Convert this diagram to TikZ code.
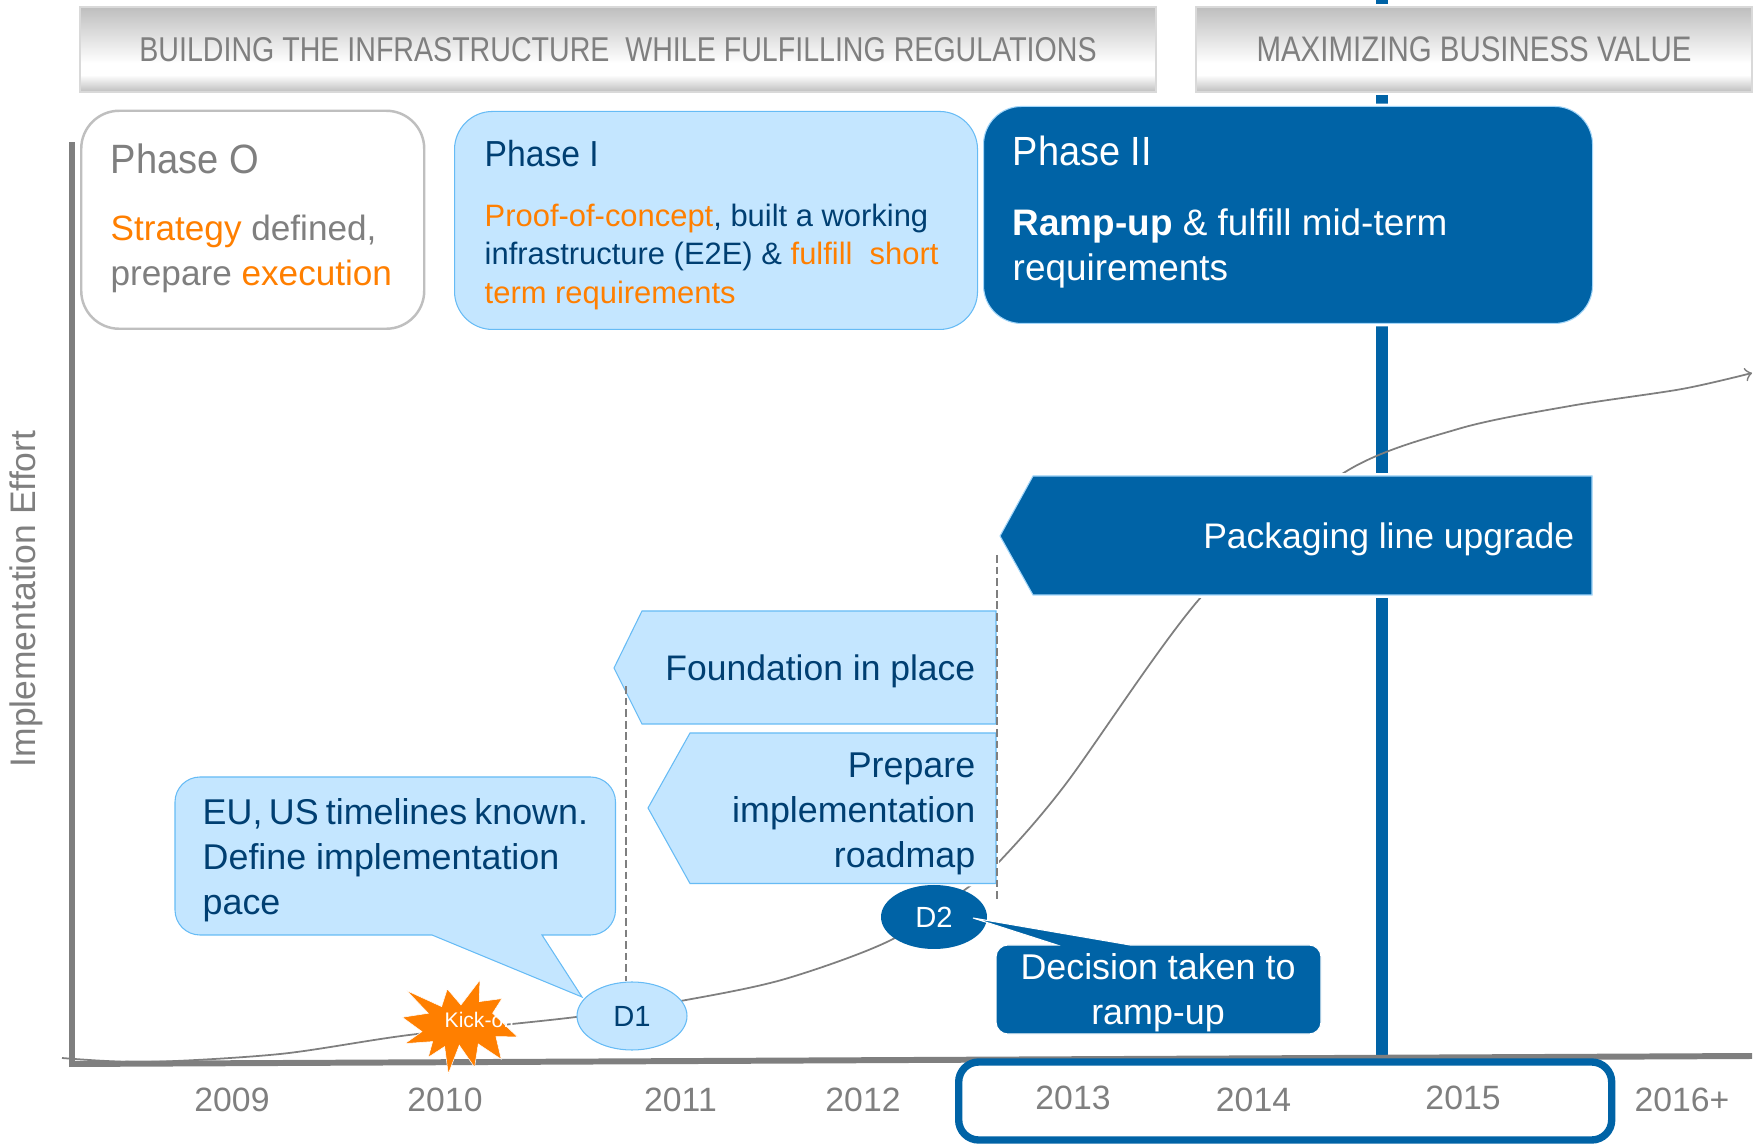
\documentclass[tikz,border=0pt]{standalone}
\usepackage{fontspec}
\setmainfont{Liberation Sans}
\newfontfamily\narrowfont[FakeStretch=0.83]{Liberation Sans}
\newfontfamily\slimfont[FakeStretch=0.93]{Liberation Sans}
\usetikzlibrary{shapes.geometric}
\definecolor{headgray}{HTML}{BEBEBE}
\definecolor{textgray}{HTML}{7F7F7F}
\definecolor{navy}{HTML}{003F72}
\definecolor{strongblue}{HTML}{0063A6}
\definecolor{paleblue}{HTML}{C4E6FF}
\definecolor{edgeblue}{HTML}{66BBF5}
\definecolor{signal}{HTML}{FF7F00}
\pgfdeclareverticalshading{headshade}{100bp}{color(0bp)=(headgray);color(25bp)=(headgray);color(35bp)=(white);color(42bp)=(white);color(75bp)=(headgray);color(100bp)=(headgray)}
\newcommand{\sized}[2]{\fontsize{#1}{#2}\selectfont}
\tikzset{
    halo/.style={preaction={draw=white,line width=1.6pt}},
    headbox/.style={shading=headshade,draw=black!15,line width=0.5pt,minimum height=0.85cm,text=textgray,halo},
    phasebox/.style={rounded corners=0.38cm,anchor=south west,inner sep=0},
    lightbox/.style={fill=paleblue,draw=edgeblue,line width=0.3pt},
    darkbox/.style={fill=strongblue,draw=edgeblue!60,line width=0.3pt},
    bodytext/.style={anchor=north west,align=left,inner sep=0},
    righttext/.style={anchor=north east,align=right,inner sep=0},
    decision/.style={ellipse,inner sep=0,font=\sized{8.3}{10}},
    axisline/.style={draw=textgray,line width=1.7pt},
    guide/.style={draw=textgray,line width=0.6pt,dash pattern=on 2.2pt off 1.1pt},
    yearlabel/.style={text=textgray,font=\sized{9.6}{11}}
}

\begin{document}
\begin{tikzpicture}
            \useasboundingbox (0,0) rectangle (17.58,11.43);
            \draw[strongblue,line width=3.42pt] (13.82,11.43)--(13.82,0.87);
            \coordinate (origin) at (0.70,0.79);
            \coordinate (xend) at (17.52,0.87);
            \coordinate (ybase) at (0.72,0.76);
            \coordinate (yend) at (0.72,10.01);
            \draw[axisline] (origin)--(xend);
            \draw[axisline] (ybase)--(yend);
            \draw[textgray,line width=0.5pt,->,>=to] plot[smooth,tension=0.5] coordinates {(0.62,0.85) (1.46,0.81) (2.80,0.89) (4.09,1.08) (5.76,1.26) (6.86,1.43) (7.85,1.64) (8.91,2.03) (9.70,2.57) (9.98,2.80) (10.65,3.58) (12.02,5.47) (13.42,6.69) (14.58,7.14) (15.70,7.37) (16.82,7.54) (17.52,7.70)};

            \node[headbox,minimum width=10.76cm,font=\narrowfont\sized{9.8}{11}] (headbuild) at (6.18,10.935) {BUILDING THE INFRASTRUCTURE\ \ WHILE FULFILLING REGULATIONS};
            \node[headbox,minimum width=5.56cm,font=\narrowfont\sized{10.1}{11}] (headvalue) at (14.74,10.935) {MAXIMIZING BUSINESS VALUE};

            \node[phasebox,draw=black!25,line width=0.7pt,fill=white,minimum width=3.43cm,minimum height=2.18cm] (phaseO) at (0.80,8.13) {};
            \node[anchor=base west,inner sep=0,text=textgray,font=\slimfont\sized{11.65}{14}] (phaseOtitle) at (1.10,9.69) {Phase O};
            \node[bodytext,text=textgray,font=\sized{10}{12.8}] (phaseObody) at (1.10,9.29) {\textcolor{signal}{Strategy} defined,\\prepare \textcolor{signal}{execution}};

            \node[phasebox,lightbox,minimum width=5.23cm,minimum height=2.18cm] (phaseI) at (4.54,8.13) {};
            \node[anchor=base west,inner sep=0,text=navy,font=\slimfont\sized{10.3}{12}] (phaseItitle) at (4.84,9.76) {Phase I};
            \node[bodytext,text=navy,font=\sized{8.8}{11}] (phaseIbody) at (4.84,9.40) {\textcolor{signal}{Proof-of-concept}, built a working\\infrastructure (E2E) \& \textcolor{signal}{fulfill\ \ short}\\\textcolor{signal}{term requirements}};

            \node[phasebox,darkbox,halo,minimum width=6.09cm,minimum height=2.17cm] (phaseII) at (9.83,8.19) {};
            \node[anchor=base west,inner sep=0,text=white,font=\slimfont\sized{11.6}{14}] (phaseIItitle) at (10.12,9.77) {Phase II};
            \node[bodytext,text=white,font=\sized{10.5}{12.8}] (phaseIIbody) at (10.12,9.35) {\textbf{Ramp-up} \& fulfill mid-term\\requirements};

            \draw[darkbox,halo] (10.00,6.07)--(10.33,6.67)--(15.92,6.67)--(15.92,5.48)--(10.33,5.48)--cycle;
            \node[anchor=base east,inner sep=0,text=white,font=\sized{10.1}{12}] (packaging) at (15.75,5.94) {Packaging line upgrade};

            \draw[lightbox,halo] (6.14,4.75)--(6.42,5.32)--(9.96,5.32)--(9.96,4.19)--(6.42,4.19)--cycle;
            \node[anchor=base east,inner sep=0,text=navy,font=\sized{10.1}{12}] (foundation) at (9.76,4.62) {Foundation in place};

            \draw[lightbox,halo] (6.48,3.35)--(6.90,4.10)--(9.96,4.10)--(9.96,2.595)--(6.90,2.595)--cycle;
            \node[righttext,text=navy,font=\sized{10.2}{12.8}] (roadmap) at (9.76,3.91) {Prepare\\implementation\\roadmap};

            \draw[lightbox,rounded corners=0.25cm] (1.75,2.08)--(1.75,3.66)--(6.155,3.66)--(6.155,2.08)[sharp corners]--(5.42,2.08)--(5.82,1.46)--(4.32,2.08)[rounded corners=0.25cm]--cycle;
            \node[bodytext,text=navy,font=\sized{10.2}{12.8}] (timelines) at (2.02,3.45) {EU,\kern-1pt\ US\kern-0.8pt\ timelines\kern-0.8pt\ known.\\Define implementation\\pace};

            \node[decision,fill=paleblue,draw=edgeblue,line width=0.3pt,text=navy,minimum width=1.10cm,minimum height=0.68cm] (dOne) at (6.32,1.27) {D1};
            \node[decision,fill=strongblue,text=white,minimum width=1.06cm,minimum height=0.64cm] (dTwo) at (9.34,2.26) {D2};

            \coordinate (foundationedge) at (6.26,4.57);
            \coordinate (packagingedge) at (9.97,5.88);
            \coordinate (decisionedge) at (9.97,2.41);
            \draw[guide] (foundationedge)--(foundationedge |- dOne.north);
            \draw[guide] (packagingedge)--(decisionedge);

            \draw[fill=strongblue,draw=white,line width=0.3pt,rounded corners=0.12cm] (9.96,1.09)--(9.96,1.98)[sharp corners]--(10.57,1.98)--(9.73,2.25)--(11.30,1.98)[rounded corners=0.12cm]--(13.21,1.98)--(13.21,1.09)--cycle;
            \node[text=white,inner sep=0,align=center,font=\sized{10.2}{12.8}] (rampup) at (11.58,1.50) {Decision taken to\\ramp-up};

            \begin{scope}[shift={(3.6,2.43)},x=0.01cm/3,y=-0.01cm/3]
                \fill[signal,draw=white,line width=0.15pt] (360,240)--(358,305)--(426,296)--(398,340)--(473,411)--(408,410)--(424,478)--(355,432)--(344,502)--(298,436)--(265,522)--(254,440)--(205,472)--(218,425)--(135,431)--(186,395)--(127,352)--(205,340)--(140,272)--(245,320)--(262,267)--(303,315)--cycle;
            \end{scope}
            \node[anchor=base west,inner sep=0,text=white,font=\sized{6}{7}] (kickoff) at (4.44,1.15) {Kick-off};

            \node[draw=strongblue,line width=2.1pt,rounded corners=0.2cm,minimum width=6.53cm,minimum height=0.78cm,anchor=south west,inner sep=0] (yearframe) at (9.55,-0.007) {};
            \foreach \yr/\lab/\xpos/\ypos in {2009/2009/2.32/0.43,2010/2010/4.45/0.43,2011/2011/6.805/0.43,2012/2012/8.63/0.43,2013/2013/10.73/0.45,2014/2014/12.535/0.43,2015/2015/14.63/0.45,2016/2016+/16.82/0.43}{
                \node[yearlabel] (year\yr) at (\xpos,\ypos) {\lab};
            }
            \node[rotate=90,text=textgray,inner sep=0,font=\sized{10.1}{11}] (effort) at (0.26,5.44) {Implementation Effort};
        \end{tikzpicture}
\end{document}
